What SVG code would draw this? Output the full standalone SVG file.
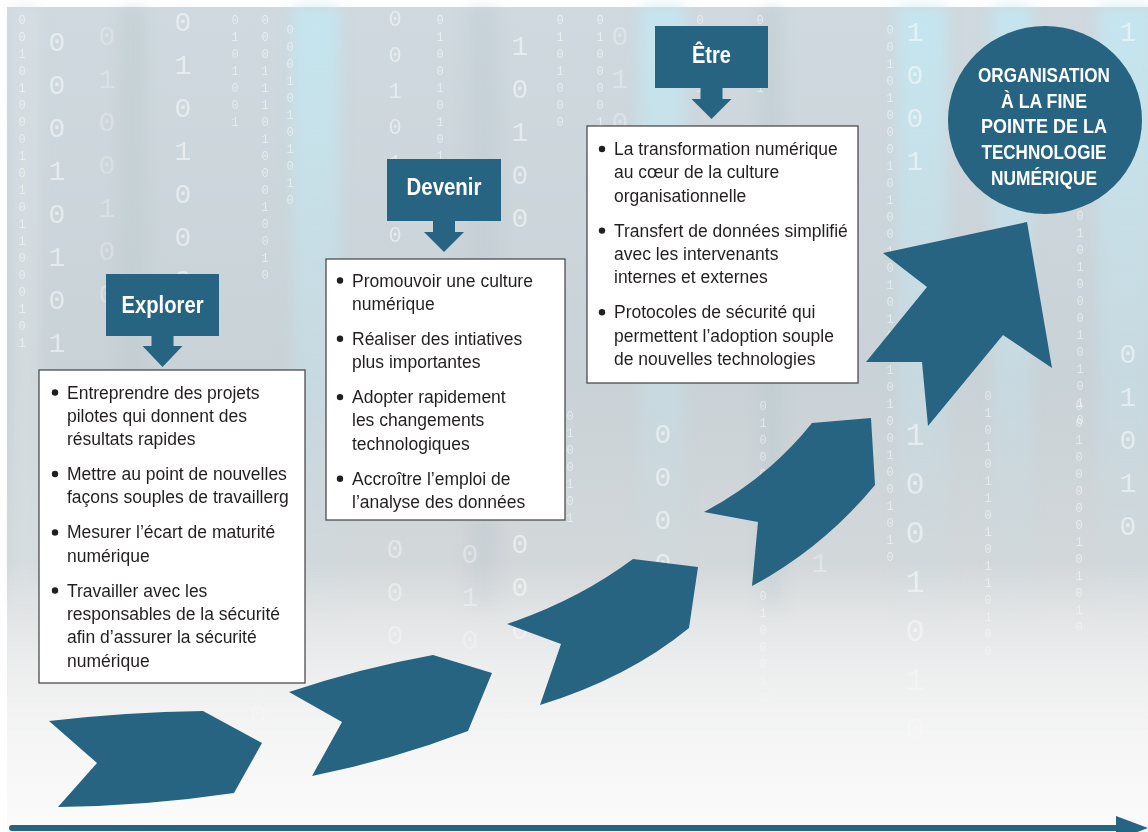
<svg xmlns="http://www.w3.org/2000/svg" width="1148" height="832" viewBox="0 0 1148 832">
<defs>
<linearGradient id="bgG" x1="0" y1="0" x2="0" y2="1">
<stop offset="0" stop-color="#cfd9df"/>
<stop offset="0.45" stop-color="#c9d2d7"/>
<stop offset="0.7" stop-color="#d4d8da"/>
<stop offset="1" stop-color="#f4f4f4"/>
</linearGradient>
<linearGradient id="fadeG" x1="0" y1="0" x2="0" y2="1">
<stop offset="0" stop-color="#f8f8f8" stop-opacity="0"/>
<stop offset="0.45" stop-color="#f3f3f3" stop-opacity="0.75"/>
<stop offset="0.8" stop-color="#f8f8f8" stop-opacity="1"/>
<stop offset="1" stop-color="#fbfbfb" stop-opacity="1"/>
</linearGradient>
<linearGradient id="cyanG" x1="0" y1="0" x2="0" y2="1">
<stop offset="0" stop-color="#c2e8f3" stop-opacity="0.8"/>
<stop offset="0.6" stop-color="#c6e3ec" stop-opacity="0.45"/>
<stop offset="1" stop-color="#c8dfe6" stop-opacity="0.1"/>
</linearGradient>
<filter id="soft" x="-0.1" y="-0.1" width="1.2" height="1.2">
<feGaussianBlur stdDeviation="7"/>
</filter>
<filter id="softd" x="-0.2" y="-0.05" width="1.4" height="1.1">
<feGaussianBlur stdDeviation="0.7"/>
</filter>
<style>
.body{font-family:"Liberation Sans",Arial,sans-serif;font-size:17.5px;fill:#231f20}
.title{font-family:"Liberation Sans",Arial,sans-serif;font-weight:bold;font-size:24px;fill:#ffffff;text-anchor:middle}
.circ{font-family:"Liberation Sans",Arial,sans-serif;font-weight:bold;font-size:21px;fill:#ffffff;text-anchor:middle}
.box{fill:#ffffff;stroke:#4d4d4d;stroke-width:1.3}
.blue{fill:#266482}
.bul{fill:#231f20}
.dg{font-family:"Liberation Mono","DejaVu Sans Mono",monospace;fill:#ffffff;writing-mode:vertical-rl;text-orientation:upright}
.big{font-size:28px;letter-spacing:12px;opacity:0.5}
.sm{font-size:12px;letter-spacing:3px;opacity:0.5}
</style>
</defs>

<g id="background">
<rect x="0" y="0" width="1148" height="832" fill="#ffffff"/>
<rect x="7" y="7" width="1141" height="825" fill="url(#bgG)"/>
<g filter="url(#soft)">
<rect x="12" y="7" width="28" height="600" fill="#d9e1e5" opacity="0.6"/>
<rect x="120" y="7" width="26" height="600" fill="#bcc7cd" opacity="0.4"/>
<rect x="292" y="7" width="48" height="600" fill="url(#cyanG)"/>
<rect x="468" y="7" width="30" height="600" fill="#bfc9cf" opacity="0.4"/>
<rect x="640" y="7" width="45" height="600" fill="url(#cyanG)"/>
<rect x="760" y="7" width="22" height="600" fill="#bac7ce" opacity="0.4"/>
<rect x="897" y="7" width="50" height="600" fill="url(#cyanG)"/>
<rect x="992" y="7" width="40" height="600" fill="url(#cyanG)"/>
<rect x="1098" y="7" width="56" height="600" fill="url(#cyanG)"/>
</g>
<g id="digits" filter="url(#softd)">
<text class="dg big" x="57" y="28">0001010100</text>
<text class="dg big" x="183" y="8">01010001</text>
<text class="dg big" x="107" y="22" style="opacity:0.25">0100100</text>
<text class="dg big" x="520" y="32">10100</text>
<text class="dg big" x="520" y="530">000</text>
<text class="dg big" x="663" y="420">0000</text>
<text class="dg big" x="620" y="22" style="opacity:0.3">010</text>
<text class="dg big" x="915" y="18">1001</text>
<text class="dg big" x="915" y="418" style="font-size:32px">1001010</text>
<text class="dg big" x="1128" y="340">01010</text>
<text class="dg big" x="1128" y="18">1</text>
<text class="dg big" x="820" y="420" style="opacity:0.3">0101</text>
<text class="dg big" x="470" y="540" style="opacity:0.35">010</text>
<text class="dg big" x="395" y="535" style="opacity:0.4">000</text>
<text class="dg big" x="395" y="8" style="font-size:22px;letter-spacing:11px">0010100</text>
<text class="dg big" x="258" y="700" style="opacity:0.4">0</text>
<text class="dg sm" x="22" y="14">00101000101011000101</text>
<text class="dg sm" x="265" y="14">0001110100010010</text>
<text class="dg sm" x="290" y="24">00010101010</text>
<text class="dg sm" x="440" y="14">010010101</text>
<text class="dg sm" x="560" y="14">0101000</text>
<text class="dg sm" x="600" y="14">01000011</text>
<text class="dg sm" x="760" y="14">00101</text>
<text class="dg sm" x="890" y="24">00101000101001010100101001001010</text>
<text class="dg sm" x="1080" y="210">0101000101010</text>
<text class="dg sm" x="763" y="400">01000</text>
<text class="dg sm" x="763" y="590">0100010</text>
<text class="dg sm" x="988" y="390">0101011010110100</text>
<text class="dg sm" x="1079" y="400">00100000101010</text>
<text class="dg sm" x="570" y="410">0100101</text>
<text class="dg sm" x="700" y="14">01101</text>
<text class="dg sm" x="235" y="14">0101001</text>
</g>
<rect x="7" y="560" width="1141" height="272" fill="url(#fadeG)"/>
</g>

<g id="connectors">
<line x1="12" y1="828" x2="1120" y2="828" stroke="#266482" stroke-width="6" stroke-linecap="round"/>
<polygon class="blue" points="1116,816 1148,828 1116,840"/>
</g>

<g id="chevrons">
<path id="chevron1" class="blue" d="M49,721 Q126,712 203,711 L262,743 L234,793 Q146,806 58,807 L97,763 Z"/>
<path id="chevron2" class="blue" d="M289,692 Q361,668 433,655 L492,673 L468,731 Q392,760 312,776 L342,722 Z"/>
<path id="chevron3" class="blue" d="M507,624 Q578,600 633,559 L698,567 L689,628 Q628,678 540,705 L561,644 Z"/>
<path id="chevron4" class="blue" d="M704,512 Q768,478 812,423 L871,418 L875,485 Q823,548 752,586 L758,522 Z"/>
<path id="chevron5" class="blue" d="M883,253 L1027,222 L1052,368 L1003,335 L928,426 L922,362 L866,362 L927,287 Z"/>
</g>

<g id="explorer">
<rect class="blue" x="106" y="274" width="113" height="62"/>
<path class="blue" d="M151.5,335 V346 H142.5 L162.5,367 L182.5,346 H173.5 V335 Z"/>
<text class="title" x="162.5" y="313" textLength="82" lengthAdjust="spacingAndGlyphs">Explorer</text>
</g>
<g id="explorer-box">
<rect class="box" x="39" y="370" width="266" height="313"/>
<circle class="bul" cx="55" cy="392.5" r="3.2"/>
<circle class="bul" cx="55" cy="474" r="3.2"/>
<circle class="bul" cx="55" cy="532.5" r="3.2"/>
<circle class="bul" cx="55" cy="590.5" r="3.2"/>
<text class="body" x="67" y="398.5">Entreprendre des projets</text>
<text class="body" x="67" y="421.8">pilotes qui donnent des</text>
<text class="body" x="67" y="445.1">résultats rapides</text>
<text class="body" x="67" y="480.1">Mettre au point de nouvelles</text>
<text class="body" x="67" y="503.4">façons souples de travaillerg</text>
<text class="body" x="67" y="538.4">Mesurer l’écart de maturité</text>
<text class="body" x="67" y="561.7">numérique</text>
<text class="body" x="67" y="596.7">Travailler avec les</text>
<text class="body" x="67" y="620">responsables de la sécurité</text>
<text class="body" x="67" y="643.3">afin d’assurer la sécurité</text>
<text class="body" x="67" y="666.6">numérique</text>
</g>

<g id="devenir">
<rect class="blue" x="387" y="159" width="114" height="62"/>
<path class="blue" d="M433,220 V232 H424 L444,252 L464,232 H455 V220 Z"/>
<text class="title" x="444" y="195" textLength="75" lengthAdjust="spacingAndGlyphs">Devenir</text>
</g>
<g id="devenir-box">
<rect class="box" x="326" y="259" width="239" height="261"/>
<circle class="bul" cx="340" cy="280.5" r="3.2"/>
<circle class="bul" cx="340" cy="338.8" r="3.2"/>
<circle class="bul" cx="340" cy="397.1" r="3.2"/>
<circle class="bul" cx="340" cy="478.7" r="3.2"/>
<text class="body" x="352" y="286.5">Promouvoir une culture</text>
<text class="body" x="352" y="309.8">numérique</text>
<text class="body" x="352" y="344.8">Réaliser des intiatives</text>
<text class="body" x="352" y="368.1">plus importantes</text>
<text class="body" x="352" y="403.1">Adopter rapidement</text>
<text class="body" x="352" y="426.4">les changements</text>
<text class="body" x="352" y="449.7">technologiques</text>
<text class="body" x="352" y="484.7">Accroître l’emploi de</text>
<text class="body" x="352" y="508">l’analyse des données</text>
</g>

<g id="etre">
<rect class="blue" x="655" y="26" width="113" height="62"/>
<path class="blue" d="M700.5,87 V99 H691.5 L711.5,119 L731.5,99 H722.5 V87 Z"/>
<text class="title" x="711.5" y="63" textLength="39" lengthAdjust="spacingAndGlyphs">Être</text>
</g>
<g id="etre-box">
<rect class="box" x="587" y="126" width="271" height="257"/>
<circle class="bul" cx="602" cy="149" r="3.2"/>
<circle class="bul" cx="602" cy="230.6" r="3.2"/>
<circle class="bul" cx="602" cy="312.2" r="3.2"/>
<text class="body" x="614" y="155">La transformation numérique</text>
<text class="body" x="614" y="178.3">au cœur de la culture</text>
<text class="body" x="614" y="201.6">organisationnelle</text>
<text class="body" x="614" y="236.6">Transfert de données simplifié</text>
<text class="body" x="614" y="260">avec les intervenants</text>
<text class="body" x="614" y="283.2">internes et externes</text>
<text class="body" x="614" y="318.2">Protocoles de sécurité qui</text>
<text class="body" x="614" y="341.5">permettent l’adoption souple</text>
<text class="body" x="614" y="364.8">de nouvelles technologies</text>
</g>

<g id="goal">
<ellipse class="blue" cx="1045" cy="120" rx="97" ry="94"/>
<text class="circ" x="1044" y="81.7" textLength="132" lengthAdjust="spacingAndGlyphs">ORGANISATION</text>
<text class="circ" x="1044" y="107.5" textLength="86" lengthAdjust="spacingAndGlyphs">À LA FINE</text>
<text class="circ" x="1044" y="133.3" textLength="126" lengthAdjust="spacingAndGlyphs">POINTE DE LA</text>
<text class="circ" x="1044" y="159.2" textLength="125" lengthAdjust="spacingAndGlyphs">TECHNOLOGIE</text>
<text class="circ" x="1044" y="185" textLength="106" lengthAdjust="spacingAndGlyphs">NUMÉRIQUE</text>
</g>
</svg>
